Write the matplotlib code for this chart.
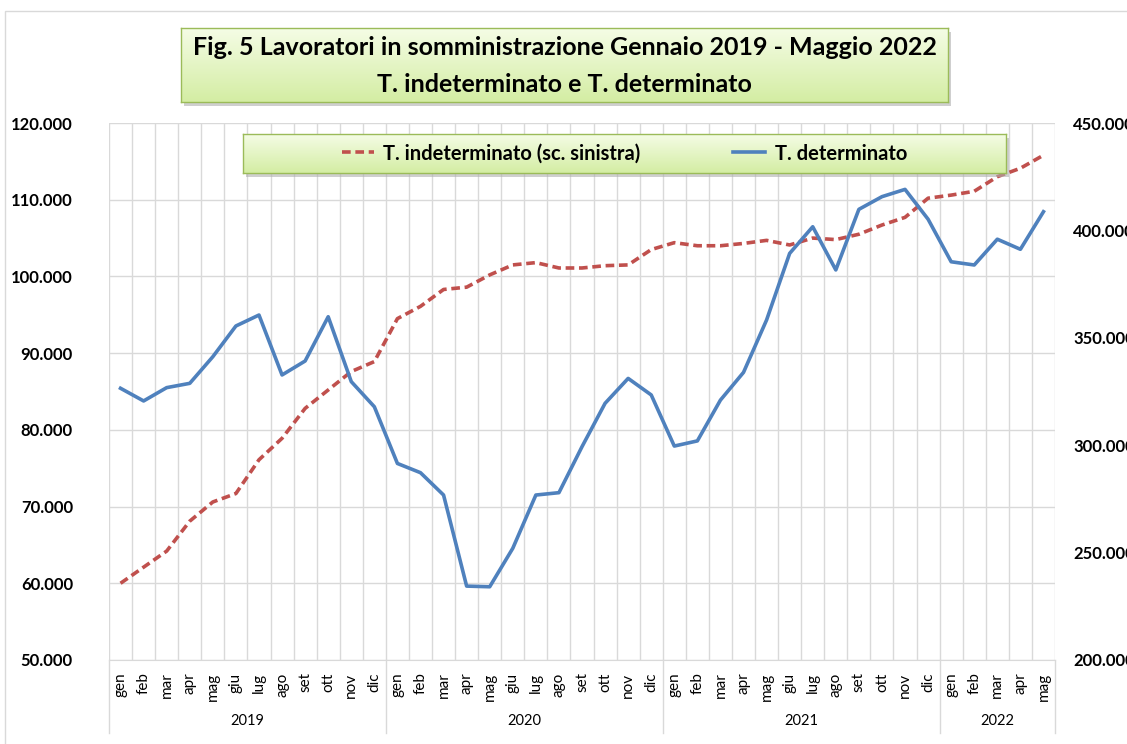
import numpy as np
import matplotlib
matplotlib.use('Agg')
import matplotlib.pyplot as plt
from matplotlib.patches import Rectangle
from matplotlib.lines import Line2D

plt.rcParams['font.family'] = ['Lato', 'DejaVu Sans']

# dati
mesi = ['gen', 'feb', 'mar', 'apr', 'mag', 'giu', 'lug', 'ago', 'set', 'ott', 'nov', 'dic']
anni = ['2019', '2020', '2021', '2022']
mesi_per_anno = [12, 12, 12, 5]

# T. indeterminato (scala sinistra)
indeterminato = [
    60000, 62100, 64200, 68100, 70600, 71700, 76100, 78900, 82800, 85200, 87600, 88900,
    94500, 96100, 98300, 98600, 100200, 101500, 101800, 101100, 101100, 101400, 101500, 103500,
    104400, 104000, 104000, 104300, 104700, 104100, 105000, 104800, 105500, 106700, 107700, 110200,
    110600, 111100, 113000, 114100, 115800,
]

# T. determinato (scala destra)
determinato = [
    326500, 320600, 326800, 328800, 341200, 355500, 360600, 332700, 339200, 359800, 329600, 317900,
    291500, 287200, 276800, 234400, 234100, 252000, 276800, 277900, 299300, 319500, 331100, 323400,
    299600, 302000, 321000, 333900, 358300, 389300, 401700, 381600, 409800, 415700, 419100, 405200,
    385400, 383900, 395900, 391200, 408700,
]

etichette_x = []
for n in mesi_per_anno:
    etichette_x += mesi[:n]

ROSSO = '#c0504d'
BLU = '#4f81bd'
GRIGIO = '#d9d9d9'


def fmt(v):
    return f"{v:,.0f}".replace(",", ".")


def box_gradiente(fig, rect):
    # riquadro verde con sfumatura e ombra
    W, H = 1127, 744
    l, b, w, h = rect
    fig.patches.append(Rectangle((l + 3 / W, b - 4 / H), w, h, transform=fig.transFigure,
                                 facecolor='#b0b0b0', edgecolor='none', alpha=0.6, zorder=4))
    bx = fig.add_axes(rect, zorder=5)
    grad = np.linspace(0, 1, 100).reshape(-1, 1)
    top = np.array([0.96, 0.99, 0.90])
    bot = np.array([0.83, 0.93, 0.64])
    img = top + (bot - top) * grad[..., None]
    bx.imshow(img, aspect='auto', extent=(0, 1, 0, 1), origin='upper')
    bx.set_xlim(0, 1)
    bx.set_ylim(0, 1)
    bx.set_xticks([])
    bx.set_yticks([])
    for s in bx.spines.values():
        s.set_color('#9bbb59')
        s.set_linewidth(1.0)
    return bx


fig = plt.figure(figsize=(11.27, 7.44), dpi=100)

# bordo dell'area grafico
fig.patches.append(Rectangle((5 / 1127, -0.1), 1.2, 1 - 11 / 744 + 0.1, transform=fig.transFigure,
                             facecolor='none', edgecolor=GRIGIO, linewidth=1.0))

ax = fig.add_axes([109 / 1127, 84 / 744, 946 / 1127, 537 / 744])
ax2 = ax.twinx()

x = np.arange(len(indeterminato))
l1, = ax.plot(x, indeterminato, color=ROSSO, linewidth=2.6, linestyle=(0, (2.4, 1.3)),
              dash_capstyle='butt', zorder=3)
l2, = ax2.plot(x, determinato, color=BLU, linewidth=2.6, zorder=3)

ax.set_xlim(-0.5, len(x) - 0.5)
ax.set_ylim(50000, 120000)
ax.set_yticks(np.arange(50000, 120001, 10000))
ax.set_yticklabels([fmt(v) for v in np.arange(50000, 120001, 10000)],
                   fontsize=12, fontweight='bold')
ax2.set_ylim(200000, 450000)
ax2.set_yticks(np.arange(200000, 450001, 50000))
ax2.set_yticklabels([fmt(v) for v in np.arange(200000, 450001, 50000)],
                    fontsize=12, fontweight='bold')

ax.set_xticks(x)
ax.set_xticklabels(etichette_x, rotation=90, fontsize=11)
ax.set_xticks(np.arange(-0.5, len(x), 1), minor=True)
ax.tick_params(axis='x', which='both', length=0, pad=9)
ax.tick_params(axis='y', length=0, pad=26)
ax2.tick_params(axis='y', length=0, pad=13)

ax.grid(axis='y', color=GRIGIO, linewidth=1.0)
ax.grid(axis='x', which='minor', color=GRIGIO, linewidth=1.0)
ax.set_axisbelow(True)
for a in (ax, ax2):
    for s in a.spines.values():
        s.set_visible(False)
ax.spines['bottom'].set_visible(True)
ax.spines['bottom'].set_color(GRIGIO)

# separatori e etichette degli anni
tr = ax.get_xaxis_transform()
bordi = np.concatenate([[0], np.cumsum(mesi_per_anno)]) - 0.5
for b in bordi:
    ax.add_line(Line2D([b, b], [0, -73 / 537], transform=tr, color=GRIGIO,
                       linewidth=1.0, clip_on=False))
for i, anno in enumerate(anni):
    ax.text((bordi[i] + bordi[i + 1]) / 2, -61 / 537, anno, transform=tr,
            ha='center', va='center', fontsize=10.5)

# titolo
tb = box_gradiente(fig, [181 / 1127, 642 / 744, 767 / 1127, 74 / 744])
tb.text(0.5, 0.73, 'Fig. 5 Lavoratori in somministrazione Gennaio 2019 - Maggio 2022',
        ha='center', va='center', fontsize=18, fontweight='bold')
tb.text(0.5, 0.23, 'T. indeterminato e T. determinato',
        ha='center', va='center', fontsize=18, fontweight='bold')

# legenda
lb = box_gradiente(fig, [243 / 1127, 571 / 744, 763 / 1127, 39 / 744])
lb.legend([l1, l2], ['T. indeterminato (sc. sinistra)', 'T. determinato'],
          loc='center', ncol=2, frameon=False, columnspacing=4.6, handlelength=1.6,
          handletextpad=0.45, prop={'size': 14.5, 'weight': 'bold'})

fig.savefig('out.png', dpi=100)
